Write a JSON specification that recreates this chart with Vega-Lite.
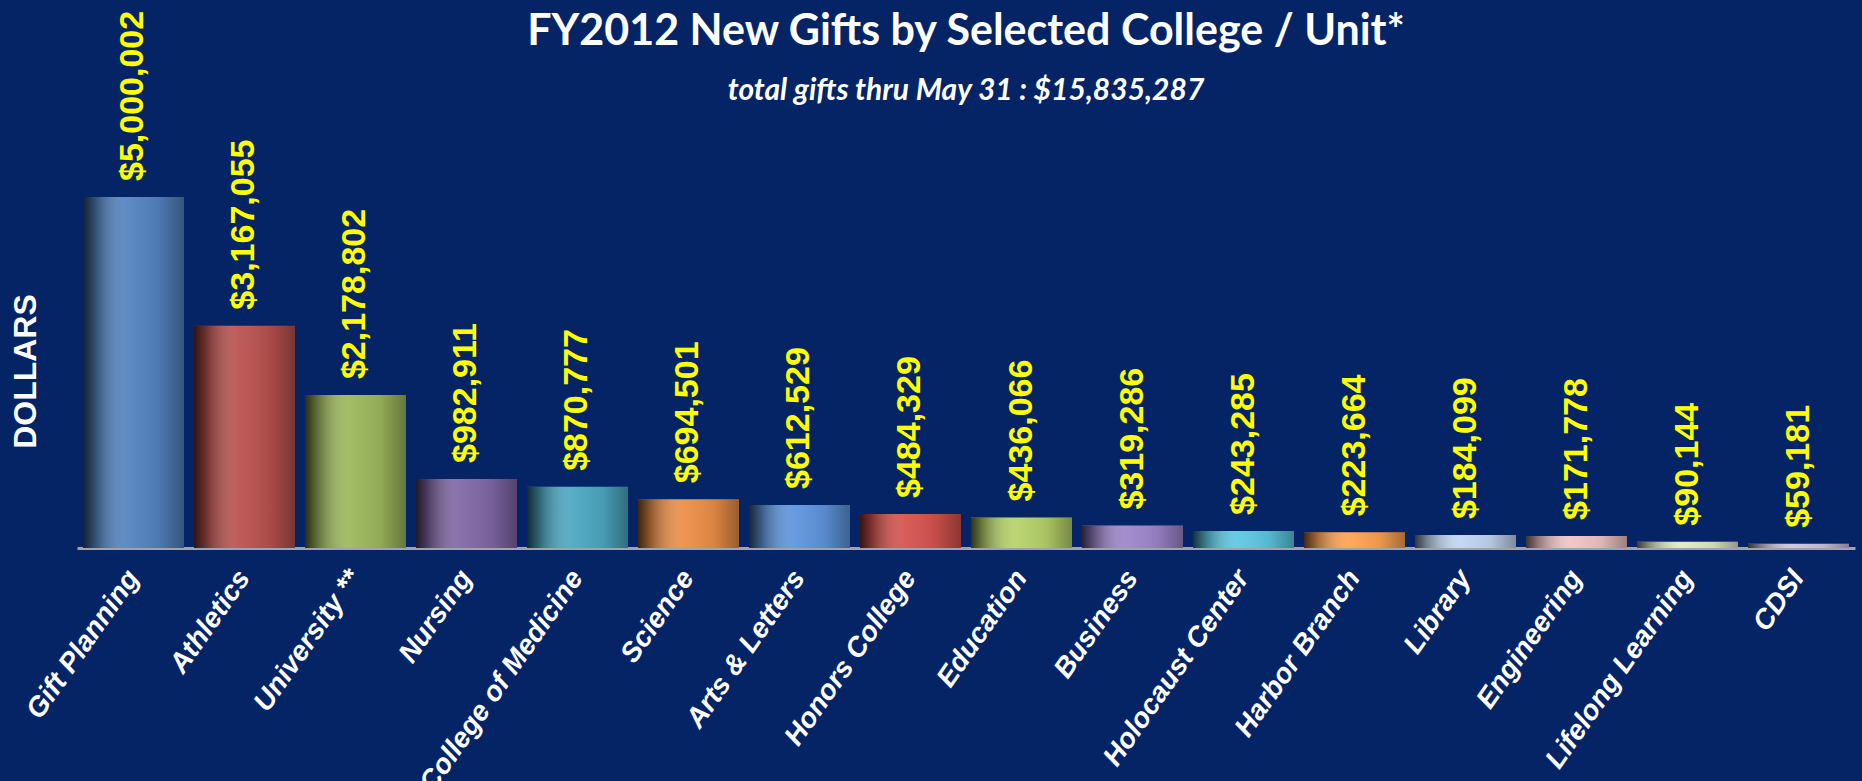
{
  "$schema": "https://vega.github.io/schema/vega-lite/v6.json",
  "width": 1778,
  "height": 354,
  "autosize": {"type": "none"},
  "padding": {"left": 77, "top": 194, "right": 7, "bottom": 233},
  "background": "#052466",
  "config": {"view": {"stroke": null}},
  "title": {
    "text": "FY2012 New Gifts by Selected College / Unit*",
    "subtitle": "total gifts thru May 31 : $15,835,287",
    "font": "Lato",
    "fontSize": 43,
    "fontWeight": "bold",
    "color": "white",
    "subtitleFont": "Lato",
    "subtitleFontSize": 30,
    "subtitleFontStyle": "italic",
    "subtitleFontWeight": "bold",
    "subtitleColor": "white",
    "subtitlePadding": 22,
    "offset": -95,
    "anchor": "middle"
  },
  "data": {
    "values": [
      {"unit": "Gift Planning", "amount": 5000002},
      {"unit": "Athletics", "amount": 3167055},
      {"unit": "University **", "amount": 2178802},
      {"unit": "Nursing", "amount": 982911},
      {"unit": "College of Medicine", "amount": 870777},
      {"unit": "Science", "amount": 694501},
      {"unit": "Arts & Letters", "amount": 612529},
      {"unit": "Honors College", "amount": 484329},
      {"unit": "Education", "amount": 436066},
      {"unit": "Business", "amount": 319286},
      {"unit": "Holocaust Center", "amount": 243285},
      {"unit": "Harbor Branch", "amount": 223664},
      {"unit": "Library", "amount": 184099},
      {"unit": "Engineering", "amount": 171778},
      {"unit": "Lifelong Learning", "amount": 90144},
      {"unit": "CDSI", "amount": 59181}
    ]
  },
  "encoding": {
    "x": {
      "field": "unit",
      "type": "nominal",
      "sort": null,
      "scale": {"paddingInner": 0.09, "paddingOuter": 0.054},
      "axis": {
        "title": null,
        "labelAngle": -55,
        "labelFont": "Liberation Sans",
        "labelFontSize": 28,
        "labelFontWeight": "bold",
        "labelFontStyle": "italic",
        "labelColor": "white",
        "labelPadding": 25,
        "labelLimit": 0,
        "labelOverlap": false,
        "ticks": false,
        "domainColor": "#A0A4AC",
        "domainWidth": 3
      }
    },
    "y": {
      "field": "amount",
      "type": "quantitative",
      "scale": {"domain": [0, 5043000], "nice": false},
      "axis": {
        "title": "DOLLARS",
        "titleFont": "Liberation Sans",
        "titleFontSize": 32,
        "titleFontWeight": "bold",
        "titleColor": "white",
        "titlePadding": 35,
        "labels": false,
        "ticks": false,
        "domain": false,
        "grid": false
      }
    }
  },
  "layer": [
    {
      "mark": {"type": "bar"},
      "encoding": {
        "color": {
          "field": "unit",
          "type": "nominal",
          "sort": null,
          "legend": null,
          "scale": {
            "domain": ["Gift Planning", "Athletics", "University **", "Nursing", "College of Medicine", "Science", "Arts & Letters", "Honors College", "Education", "Business", "Holocaust Center", "Harbor Branch", "Library", "Engineering", "Lifelong Learning", "CDSI"],
            "range": ["#5383C0", "#BA524E", "#9CB85C", "#8167A6", "#4CA8C2", "#EC8F47", "#5E95DD", "#D5534F", "#B6D36A", "#9E86CC", "#5CC8E2", "#FFA352", "#C2D5F2", "#F2C3C3", "#E0ECC4", "#CEC3E0"]
          }
        }
      }
    },
    {
      "mark": {
        "type": "bar",
        "fill": {
          "gradient": "linear",
          "x1": 0, "x2": 1, "y1": 0, "y2": 0,
          "stops": [
            {"offset": 0, "color": "rgba(0,0,0,0.75)"},
            {"offset": 0.12, "color": "rgba(0,0,0,0.4)"},
            {"offset": 0.45, "color": "rgba(255,255,255,0.06)"},
            {"offset": 0.75, "color": "rgba(0,0,0,0.08)"},
            {"offset": 1, "color": "rgba(0,0,0,0.35)"}
          ]
        }
      },
      "encoding": {}
    },
    {
      "mark": {
        "type": "text",
        "angle": 270,
        "align": "left",
        "baseline": "middle",
        "dx": 16,
        "font": "Liberation Sans",
        "fontSize": 34,
        "fontWeight": "bold",
        "color": "#FFFF00"
      },
      "encoding": {
        "text": {"field": "amount", "type": "quantitative", "format": "$,.0f"}
      }
    }
  ]
}
